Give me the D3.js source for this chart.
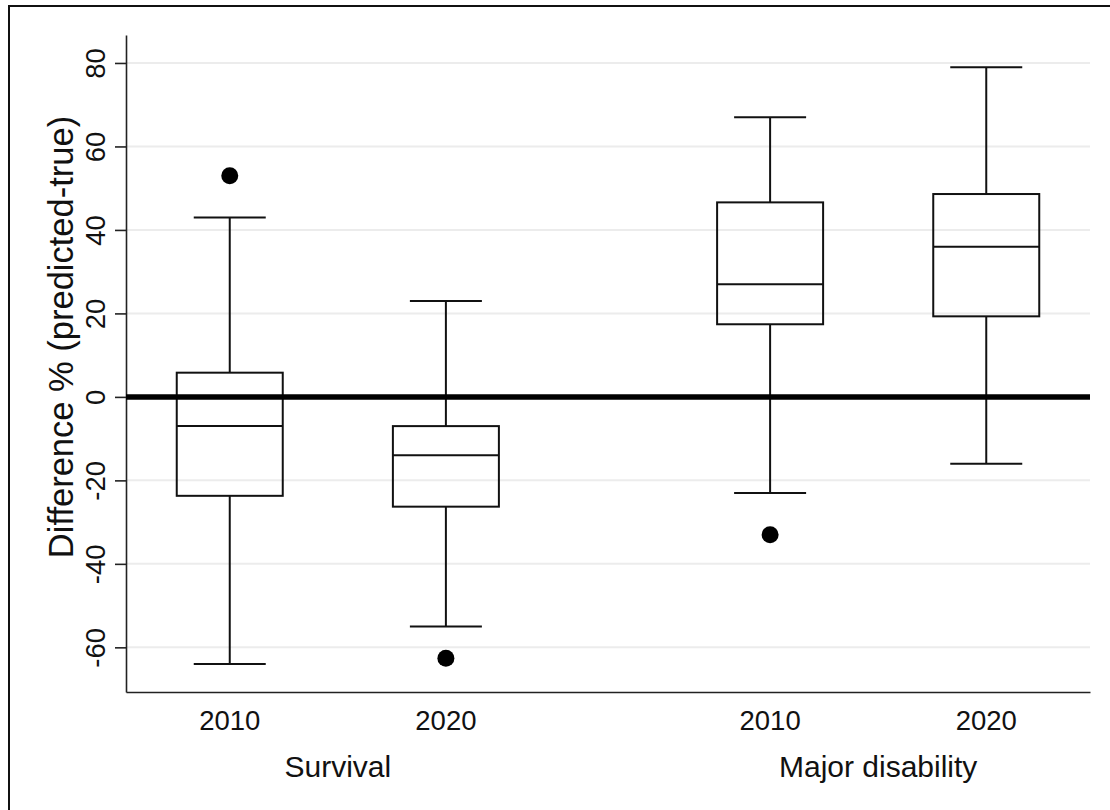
<!DOCTYPE html>
<html>
<head>
<meta charset="utf-8">
<script src="https://cdn.jsdelivr.net/npm/d3@7"></script>
<style>
  html, body { margin: 0; padding: 0; background: #fff; }
  svg { display: block; font-family: Arial, "Liberation Sans", sans-serif; }
</style>
</head>
<body>
<svg id="chart" width="1110" height="810"></svg>
<script>
// data
const outcomes = ['Survival', 'Major disability']
const years = ['2010', '2020']
const whiskerLow = [-64, -55, -23, -16]
const q1 = [-23.7, -26.3, 17.4, 19.3]
const median = [-7, -14, 27, 36]
const q3 = [5.8, -7, 46.6, 48.6]
const whiskerHigh = [43, 23, 67, 79]
const outliers = [[53], [-62.6], [-33], []]
const yTicks = [-60, -40, -20, 0, 20, 40, 60, 80]

const svg = d3.select('#chart')
const plot = {left: 126, right: 1090, top: 35, bottom: 692}

// outer frame (right and bottom are cropped off in the original)
svg.append('rect')
  .attr('x', 9).attr('y', 6)
  .attr('width', 1300).attr('height', 1000)
  .attr('fill', 'none').attr('stroke', '#111').attr('stroke-width', 2)

// build rows: year inside outcome, a wider gap between outcomes
const rows = []
outcomes.forEach((o, oi) => {
  years.forEach((yr, yi) => {
    const i = oi * years.length + yi
    rows.push({
      outcome: o, year: yr, slot: yi + oi * 2.5,
      lo: whiskerLow[i], q1: q1[i], med: median[i], q3: q3[i], hi: whiskerHigh[i],
      out: outliers[i],
    })
  })
})

const x = d3.scaleLinear().domain([-0.48, 3.98]).range([plot.left, plot.right])
const y = d3.scaleLinear().domain([-70.7, 86.7]).range([plot.bottom, plot.top])

const boxW = 106
const capW = 72

// grid
svg.append('g')
  .selectAll('line')
  .data(yTicks)
  .join('line')
  .attr('x1', plot.left).attr('x2', plot.right)
  .attr('y1', d => y(d)).attr('y2', d => y(d))
  .attr('stroke', '#ececec').attr('stroke-width', 2)

// axes
const yAxis = svg.append('g')
  .attr('transform', `translate(${plot.left},0)`)
  .call(d3.axisLeft(y).tickValues(yTicks).tickFormat(d => String(d)).tickSize(11).tickSizeOuter(0))
yAxis.select('.domain').attr('stroke', '#222').attr('stroke-width', 1.6)
yAxis.selectAll('.tick line').attr('stroke', '#222').attr('stroke-width', 1.6)
yAxis.selectAll('.tick text')
  .attr('x', null).attr('dy', null)
  .attr('text-anchor', 'middle')
  .attr('transform', 'translate(-21,0) rotate(-90)')
  .attr('font-size', 27.5)
  .attr('fill', '#111')
  .attr('font-family', 'Arial, "Liberation Sans", sans-serif')

const xAxis = svg.append('g')
  .attr('transform', `translate(0,${plot.bottom})`)
  .call(d3.axisBottom(x).tickValues([]).tickSizeOuter(0))
xAxis.select('.domain').attr('stroke', '#222').attr('stroke-width', 1.6)

// y title
svg.append('text')
  .attr('transform', 'translate(73,337) rotate(-90)')
  .attr('text-anchor', 'middle')
  .attr('font-size', 34.5)
  .attr('fill', '#111')
  .text('Difference % (predicted-true)')

// year labels
svg.append('g')
  .selectAll('text')
  .data(rows)
  .join('text')
  .attr('x', d => x(d.slot))
  .attr('y', 730)
  .attr('text-anchor', 'middle')
  .attr('font-size', 27.5)
  .attr('fill', '#111')
  .text(d => d.year)

// outcome labels, centred under each pair
svg.append('g')
  .selectAll('text')
  .data(outcomes)
  .join('text')
  .attr('x', (d, i) => x(i * 2.5 + 0.5))
  .attr('y', 777)
  .attr('text-anchor', 'middle')
  .attr('font-size', 30)
  .attr('fill', '#111')
  .text(d => d)

// whiskers (from box edge outwards) and caps
const g = svg.append('g')
  .selectAll('g')
  .data(rows)
  .join('g')
  .attr('transform', d => `translate(${x(d.slot)},0)`)

g.selectAll('line.whisker')
  .data(d => [[d.q3, d.hi], [d.q1, d.lo]])
  .join('line')
  .attr('class', 'whisker')
  .attr('x1', 0).attr('x2', 0)
  .attr('y1', d => y(d[0])).attr('y2', d => y(d[1]))
  .attr('stroke', '#111').attr('stroke-width', 2)
g.selectAll('line.cap')
  .data(d => [d.lo, d.hi])
  .join('line')
  .attr('class', 'cap')
  .attr('x1', -capW / 2).attr('x2', capW / 2)
  .attr('y1', d => y(d)).attr('y2', d => y(d))
  .attr('stroke', '#111').attr('stroke-width', 2)

// boxes
const b = svg.append('g')
  .selectAll('g')
  .data(rows)
  .join('g')
  .attr('transform', d => `translate(${x(d.slot)},0)`)

b.append('rect')
  .attr('x', -boxW / 2).attr('width', boxW)
  .attr('y', d => y(d.q3)).attr('height', d => y(d.q1) - y(d.q3))
  .attr('fill', 'none').attr('stroke', '#111').attr('stroke-width', 2)
b.append('line')
  .attr('x1', -boxW / 2).attr('x2', boxW / 2)
  .attr('y1', d => y(d.med)).attr('y2', d => y(d.med))
  .attr('stroke', '#111').attr('stroke-width', 2)
b.selectAll('circle')
  .data(d => d.out)
  .join('circle')
  .attr('cx', 0).attr('cy', d => y(d)).attr('r', 8.5)
  .attr('fill', '#000')

// zero reference line
svg.append('line')
  .attr('x1', plot.left).attr('x2', plot.right)
  .attr('y1', y(0)).attr('y2', y(0))
  .attr('stroke', '#000').attr('stroke-width', 5.5)
</script>
</body>
</html>
